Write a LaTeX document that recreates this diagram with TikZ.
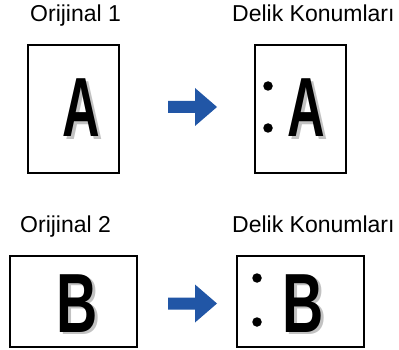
\documentclass[tikz,border=0pt]{standalone}
\usepackage{fontspec}
\usepackage{graphicx}
\setmainfont{Liberation Sans}
\definecolor{arrowblue}{HTML}{2156A6}
\definecolor{shadowgrey}{HTML}{C2C2C2}
\tikzset{
  titletext/.style={anchor=base west, inner sep=0pt, font=\fontsize{23}{23}\selectfont},
  sheet/.style={draw=black, line width=1.6pt, fill=white},
  bigletter/.style={anchor=base, inner sep=0pt, text depth=0pt, font=\bfseries\fontsize{84}{84}\selectfont},
  shadowletter/.style={bigletter, text=shadowgrey},
  hole/.style={circle, fill=black, inner sep=0pt, minimum size=9.5pt},
  blockarrow/.style={fill=arrowblue, draw=none}
}
\begin{document}
\begin{tikzpicture}[x=1pt,y=-1pt]
\useasboundingbox (0,0) rectangle (399,350);
% titles
\node[titletext] (t1) at (30,22) {Orijinal 1};
\node[titletext] (t2) at (232,22) {Delik Konumları};
\node[titletext] (t3) at (20,232) {Orijinal 2};
\node[titletext] (t4) at (232,232) {Delik Konumları};
% sheets
\draw[sheet] (28,45) rectangle (119,173);
\draw[sheet] (255,45) rectangle (346,173);
\draw[sheet] (10,256) rectangle (137,347);
\draw[sheet] (237,256) rectangle (364,347);
% letters A
\node[shadowletter] (a1s) at (84,139.5) {\scalebox{0.62}[1]{A}};
\node[bigletter] (a1) at (81,137) {\scalebox{0.62}[1]{A}};
\node[shadowletter] (a2s) at (309,139.5) {\scalebox{0.62}[1]{A}};
\node[bigletter] (a2) at (306,137) {\scalebox{0.62}[1]{A}};
% letters B
\node[shadowletter] (b1s) at (80.5,334.5) {\scalebox{0.68}[1]{B}};
\node[bigletter] (b1) at (77.5,332) {\scalebox{0.68}[1]{B}};
\node[shadowletter] (b2s) at (306.5,334.5) {\scalebox{0.68}[1]{B}};
\node[bigletter] (b2) at (303.5,332) {\scalebox{0.68}[1]{B}};
% holes
\node[hole] (h1) at (268,86) {};
\node[hole] (h2) at (268,128) {};
\node[hole] (h3) at (257,278) {};
\node[hole] (h4) at (257,322) {};
% arrows
\fill[blockarrow] (168,101) -- (195,101) -- (195,88) -- (217,107) -- (195,126) -- (195,113) -- (168,113) -- cycle;
\fill[blockarrow] (168,297.5) -- (195,297.5) -- (195,284.5) -- (217,303.5) -- (195,322.5) -- (195,309.5) -- (168,309.5) -- cycle;
\end{tikzpicture}
\end{document}
